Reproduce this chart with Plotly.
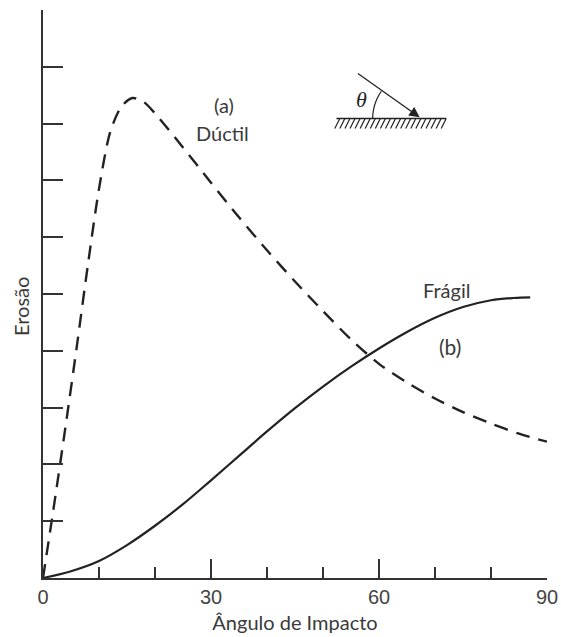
import math
import plotly.graph_objects as go

# ---- data ----
ductile_x = [0, 2, 4, 6, 8, 10, 12, 14, 16, 18, 20, 25, 30, 35, 40, 45, 50, 55, 60, 65, 70, 75, 80, 85, 90]
ductile_y = [0, 1.3, 2.65, 4.05, 5.5, 6.85, 7.85, 8.3, 8.45, 8.38, 8.18, 7.58, 6.96, 6.35, 5.77, 5.22, 4.7, 4.2, 3.77, 3.44, 3.16, 2.92, 2.72, 2.54, 2.4]

brittle_x = [0, 5, 10, 15, 20, 25, 30, 35, 40, 45, 50, 55, 60, 65, 70, 75, 80, 84, 87]
brittle_y = [0, 0.12, 0.3, 0.58, 0.92, 1.3, 1.72, 2.15, 2.58, 2.99, 3.37, 3.72, 4.04, 4.33, 4.58, 4.77, 4.89, 4.93, 4.94]

x_major = [0, 30, 60, 90]
x_major_ticks = [30, 60]
x_minor_ticks = [10, 20, 40, 50, 70, 80]
y_ticks = [1, 2, 3, 4, 5, 6, 7, 8, 9]

INK = "#222222"
TXT = "#3a3a3a"
LABEL_FONT = "Lato"

fig = go.Figure()
fig.add_trace(go.Scatter(x=ductile_x, y=ductile_y, mode="lines",
                         line=dict(color=INK, width=2.4, dash="14px,9px", shape="spline", smoothing=0.8),
                         hoverinfo="skip", showlegend=False))
fig.add_trace(go.Scatter(x=brittle_x, y=brittle_y, mode="lines",
                         line=dict(color=INK, width=2.2, shape="spline", smoothing=1.0),
                         hoverinfo="skip", showlegend=False))
# invisible trace to activate the overlay axis carrying the long ticks
fig.add_trace(go.Scatter(x=[0], y=[0], xaxis="x2", mode="markers",
                         marker=dict(opacity=0), hoverinfo="skip", showlegend=False))

# ---- inset diagram (angle of impact) ----
PXX = 504 / 90.0   # px per x unit
PXY = 567.7 / 10.0  # px per y unit
gx0, gx1, gy = 52.4, 72.0, 8.09
tip = (67.27, 8.11)
start = (55.96, 8.90)

shapes = [dict(type="line", xref="x", yref="y", x0=gx0, x1=gx1, y0=gy, y1=gy,
               line=dict(color=INK, width=1.6))]
hatch = ""
n = 22
for i in range(n):
    hx = gx0 + 0.6 + i * (gx1 - gx0 - 0.6) / (n - 1)
    hatch += f"M{hx},{gy} L{hx - 5 / PXX},{gy - 10 / PXY} "
shapes.append(dict(type="path", xref="x", yref="y", path=hatch, line=dict(color=INK, width=1.2)))
# arc for theta
r = 47
ang = math.degrees(math.atan2((start[1] - tip[1]) * PXY, (tip[0] - start[0]) * PXX))
arc = ""
for k in range(21):
    a = math.radians(180 - ang * k / 20)
    px = tip[0] + r * math.cos(a) / PXX
    py = gy + r * math.sin(a) / PXY
    arc += ("M" if k == 0 else "L") + f"{px},{py} "
shapes.append(dict(type="path", xref="x", yref="y", path=arc, line=dict(color=INK, width=1.2)))

annotations = [
    dict(x=tip[0], y=tip[1], ax=start[0], ay=start[1], xref="x", yref="y", axref="x", ayref="y",
         text="", showarrow=True, arrowhead=2, arrowsize=1.6, arrowwidth=1.3, arrowcolor=INK),
    dict(x=56.9, y=8.43, xref="x", yref="y", text="<i>θ</i>", showarrow=False,
         font=dict(family="Liberation Serif", size=22, color=INK)),
    dict(x=32.3, y=8.33, xref="x", yref="y", text="(a)", showarrow=False,
         font=dict(family=LABEL_FONT, size=20, color=TXT)),
    dict(x=32.0, y=7.83, xref="x", yref="y", text="Dúctil", showarrow=False,
         font=dict(family=LABEL_FONT, size=20, color=TXT)),
    dict(x=72.1, y=5.07, xref="x", yref="y", text="Frágil", showarrow=False,
         font=dict(family=LABEL_FONT, size=20, color=TXT)),
    dict(x=72.6, y=4.07, xref="x", yref="y", text="(b)", showarrow=False,
         font=dict(family=LABEL_FONT, size=21, color=TXT)),
    dict(x=-22 / 504, y=4.77, xref="paper", yref="y", xanchor="center", yanchor="middle",
         text="Erosão", showarrow=False, textangle=-90,
         font=dict(family=LABEL_FONT, size=20, color=TXT)),
]

fig.update_layout(
    width=561, height=637,
    margin=dict(l=43, r=14, t=10, b=59, autoexpand=False),
    plot_bgcolor="white", paper_bgcolor="white",
    shapes=shapes, annotations=annotations,
    xaxis=dict(range=[0, 90], showgrid=False, zeroline=False, showline=True, linecolor="#333333", linewidth=1.8,
               tickvals=x_major, ticktext=[str(v) for v in x_major], ticks="", automargin=False,
               tickfont=dict(family="Liberation Sans", size=20, color="#444444"),
               minor=dict(tickvals=x_minor_ticks, ticks="inside", ticklen=11, tickwidth=1.6, tickcolor="#333333"),
               title=dict(text="Ângulo de Impacto", font=dict(family=LABEL_FONT, size=20, color=TXT), standoff=9),
               fixedrange=True),
    xaxis2=dict(range=[0, 90], overlaying="x", anchor="y", side="bottom", showgrid=False, zeroline=False,
                showline=False, tickvals=x_major_ticks, showticklabels=False, automargin=False,
                ticks="inside", ticklen=19, tickwidth=1.6, tickcolor="#333333"),
    yaxis=dict(range=[0, 10], showgrid=False, zeroline=False, showline=True, linecolor="#333333", linewidth=1.8,
               tickvals=y_ticks, showticklabels=False, ticks="inside", ticklen=20, tickwidth=1.6, tickcolor="#333333",
               automargin=False, fixedrange=True),
)

fig.write_html("out.html")
